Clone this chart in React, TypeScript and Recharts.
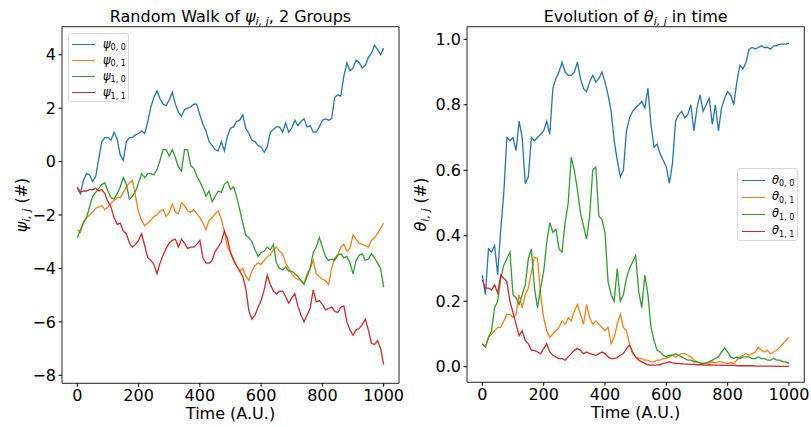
import React from 'react';
import { LineChart, Line, XAxis, YAxis, ReferenceArea, Legend, Label } from 'recharts';

const FONT = '"DejaVu Sans", sans-serif';
const COLORS = ['#1f77b4', '#ff7f0e', '#2ca02c', '#d62728'];
const SUBS = ['0, 0', '0, 1', '1, 0', '1, 1'];

// time steps (A.U.)
const times = [
  0, 10, 20, 30, 40, 50, 60, 70, 80, 90,
  100, 110, 120, 130, 140, 150, 160, 170, 180, 190,
  200, 210, 220, 230, 240, 250, 260, 270, 280, 290,
  300, 310, 320, 330, 340, 350, 360, 370, 380, 390,
  400, 410, 420, 430, 440, 450, 460, 470, 480, 490,
  500, 510, 520, 530, 540, 550, 560, 570, 580, 590,
  600, 610, 620, 630, 640, 650, 660, 670, 680, 690,
  700, 710, 720, 730, 740, 750, 760, 770, 780, 790,
  800, 810, 820, 830, 840, 850, 860, 870, 880, 890,
  900, 910, 920, 930, 940, 950, 960, 970, 980, 990,
  1000,
];

// random walk psi_{i,j}
const psi00 = [
  -1.0, -1.2, -0.7, -0.45, -0.5, -0.75, -0.55, 0.1, 0.75, 0.9,
  0.9, 0.8, 1.1, 0.85, 0.25, 0.05, 0.75, 0.9, 0.9, 1.0,
  1.05, 1.15, 1.05, 1.5, 2.05, 2.4, 2.65, 2.35, 2.15, 2.1,
  2.3, 2.6, 2.15, 1.85, 1.7, 1.95, 2.0, 2.05, 2.15, 2.15,
  1.75, 1.4, 1.15, 0.75, 0.6, 0.45, 0.4, 0.75, 0.4, 0.95,
  1.25, 1.3, 1.5, 1.55, 1.75, 1.25, 1.05, 0.8, 0.75, 0.6,
  0.55, 0.35, 0.55, 1.1, 1.2, 1.3, 1.3, 1.1, 1.45, 1.1,
  1.25, 1.55, 1.35, 1.5, 1.6, 1.3, 1.35, 1.1, 1.1, 1.3,
  1.55, 1.6, 1.55, 1.6, 2.4, 2.5, 2.45, 3.2, 3.7, 3.4,
  3.5, 3.8, 3.7, 3.5, 3.6, 3.9, 4.05, 4.35, 4.2, 4.0,
  4.25,
];
const psi01 = [
  -2.55, -2.65, -2.25, -2.1, -2.0, -1.9, -1.75, -1.7, -1.65, -1.8,
  -1.7, -1.55, -1.45, -1.35, -1.35, -1.15, -0.95, -0.8, -0.7, -1.3,
  -1.9, -2.2, -2.4, -2.3, -2.2, -2.05, -2.0, -1.85, -1.8, -2.05,
  -1.9, -1.6, -1.9, -1.95, -1.55, -1.65, -1.85, -1.9, -1.8, -1.95,
  -2.1, -2.3, -2.55, -2.2, -2.1, -1.95, -1.85, -2.15, -2.6, -3.2,
  -3.4, -3.65, -3.9, -4.1, -4.0, -4.3, -4.45, -4.1, -3.9, -3.8,
  -3.85, -3.7, -3.55, -3.5, -3.3, -3.2, -3.35, -3.45, -3.8, -4.0,
  -4.2, -4.35, -4.4, -4.45, -4.55, -4.2, -4.0, -3.7, -4.2, -4.3,
  -4.4, -4.45, -4.6, -4.0, -3.6, -3.5, -3.2, -3.1, -3.35, -3.25,
  -2.75, -2.9, -3.05, -3.1, -3.15, -3.2, -2.95, -2.85, -2.7, -2.5,
  -2.3,
];
const psi10 = [
  -2.85, -2.55, -2.3, -2.1, -1.7, -1.3, -1.15, -1.0, -0.85, -0.8,
  -1.1, -1.35, -1.4, -1.2, -0.95, -0.6, -0.85, -1.4, -1.3, -1.1,
  -0.8, -0.45, -0.6, -0.45, -0.45, -0.5, -0.3, 0.05, 0.45, 0.45,
  0.2, 0.45, 0.15, -0.2, -0.35, 0.45, 0.45, -0.15, -0.25, -0.55,
  -0.75, -1.0, -1.3, -1.1, -1.5, -1.3, -1.1, -1.15, -0.85, -0.75,
  -1.05, -0.95, -1.3, -1.8, -2.3, -2.75, -2.85, -3.0, -3.3, -3.55,
  -3.4, -3.35, -3.2, -3.3, -3.1, -3.8, -4.0, -4.05, -3.95, -4.1,
  -4.1, -4.2, -4.3, -4.45, -4.6, -4.3, -4.0, -3.4, -3.2, -2.85,
  -3.2, -3.55, -3.7, -3.65, -3.7, -3.5, -3.45, -3.6, -3.55, -3.8,
  -4.2, -3.7, -3.5, -3.45, -3.7, -3.65, -3.45, -3.6, -3.8, -4.0,
  -4.7,
];
const psi11 = [
  -0.95, -1.15, -1.1, -1.1, -1.05, -1.05, -1.0, -1.1, -1.05, -1.2,
  -1.5, -1.7, -2.1, -2.35, -2.3, -2.6, -2.7, -3.05, -3.2, -3.1,
  -2.95, -2.7, -3.15, -3.6, -3.7, -3.85, -4.2, -3.8, -3.5, -3.25,
  -3.05, -2.95, -2.9, -3.2, -2.9, -3.05, -3.25, -3.2, -3.2, -3.1,
  -2.95, -3.6, -3.8, -3.8, -3.7, -3.35, -3.2, -3.0, -2.6, -2.9,
  -3.4, -3.7, -3.9, -4.1, -4.3, -4.75, -5.6, -5.9, -5.75, -5.45,
  -5.2, -4.8, -4.25, -4.6, -4.85, -4.95, -4.85, -4.85, -5.05, -5.3,
  -5.1, -4.95, -5.4, -5.75, -6.0, -5.75, -5.5, -4.8, -5.25, -5.2,
  -5.35, -5.55, -5.5, -5.45, -5.6, -5.65, -5.45, -5.4, -6.0, -6.3,
  -6.5, -6.3, -6.25, -6.1, -5.9, -6.3, -6.8, -6.85, -6.7, -7.0,
  -7.6,
];

// theta_{i,j}
const theta00 = [
  0.28, 0.22, 0.36, 0.35, 0.37, 0.28, 0.42, 0.53, 0.7, 0.69,
  0.7, 0.66, 0.75, 0.7, 0.56, 0.58, 0.7, 0.69, 0.7, 0.71,
  0.72, 0.75, 0.71, 0.85, 0.88, 0.9, 0.93, 0.9, 0.89, 0.89,
  0.9, 0.93, 0.88, 0.85, 0.84, 0.87, 0.89, 0.87, 0.88, 0.9,
  0.87, 0.83, 0.78, 0.69, 0.63, 0.58, 0.6, 0.72, 0.76, 0.78,
  0.79, 0.8, 0.81, 0.79, 0.85, 0.74, 0.67, 0.68, 0.65, 0.63,
  0.61, 0.56, 0.62, 0.75, 0.77, 0.78, 0.76, 0.77, 0.8, 0.72,
  0.79, 0.83, 0.78, 0.8, 0.82, 0.74, 0.8, 0.72, 0.79, 0.82,
  0.84, 0.83, 0.8, 0.87, 0.92, 0.91, 0.93, 0.97, 0.975, 0.97,
  0.975, 0.98, 0.975, 0.975, 0.97, 0.98, 0.98, 0.985, 0.985, 0.985,
  0.988,
];
const theta01 = [
  0.07, 0.06, 0.09, 0.1, 0.11, 0.12, 0.12, 0.14, 0.16, 0.16,
  0.15, 0.16, 0.22, 0.18, 0.22, 0.24, 0.29, 0.335, 0.33, 0.22,
  0.15, 0.11, 0.09, 0.1, 0.11, 0.12, 0.14, 0.13, 0.15, 0.14,
  0.17, 0.19, 0.16, 0.13, 0.19, 0.15, 0.13, 0.14, 0.13, 0.12,
  0.11, 0.12, 0.07, 0.09, 0.13, 0.16, 0.12, 0.11, 0.07, 0.04,
  0.03, 0.025, 0.025, 0.02, 0.02, 0.015, 0.015, 0.02, 0.02, 0.025,
  0.025, 0.03, 0.035, 0.03, 0.035, 0.04, 0.04, 0.035, 0.03, 0.02,
  0.015, 0.012, 0.01, 0.01, 0.012, 0.015, 0.012, 0.015, 0.015, 0.012,
  0.01, 0.012, 0.01, 0.02, 0.03, 0.035, 0.04, 0.035, 0.04, 0.045,
  0.06, 0.05, 0.045, 0.05, 0.04, 0.045, 0.05, 0.06, 0.07, 0.08,
  0.09,
];
const theta10 = [
  0.07, 0.06, 0.09, 0.11, 0.18, 0.2, 0.27, 0.31, 0.33, 0.35,
  0.22, 0.21, 0.19, 0.22, 0.25, 0.33, 0.36, 0.24, 0.18, 0.24,
  0.29, 0.38, 0.44, 0.41, 0.42, 0.36, 0.35, 0.44, 0.5, 0.64,
  0.6, 0.54, 0.47, 0.43, 0.39, 0.46, 0.6, 0.61, 0.46, 0.45,
  0.41, 0.26, 0.22, 0.2, 0.3, 0.2, 0.22, 0.27, 0.3, 0.32,
  0.34, 0.23, 0.18, 0.28, 0.22, 0.12, 0.08, 0.05, 0.045, 0.035,
  0.03, 0.035, 0.035, 0.04, 0.035, 0.03, 0.025, 0.02, 0.02, 0.015,
  0.015, 0.012, 0.01, 0.012, 0.015, 0.02, 0.025, 0.03, 0.045, 0.057,
  0.045, 0.03, 0.025, 0.03, 0.025, 0.03, 0.03, 0.03, 0.025, 0.025,
  0.03, 0.025, 0.025, 0.02, 0.02, 0.025, 0.02, 0.02, 0.015, 0.015,
  0.01,
];
const theta11 = [
  0.265, 0.24, 0.24, 0.235, 0.25, 0.225, 0.28, 0.27, 0.26, 0.2,
  0.165, 0.13, 0.095, 0.11, 0.08, 0.07, 0.05, 0.05, 0.045, 0.04,
  0.055, 0.07, 0.045, 0.035, 0.03, 0.025, 0.025, 0.02, 0.03, 0.04,
  0.05, 0.056, 0.05, 0.04, 0.045, 0.04, 0.038, 0.035, 0.04, 0.045,
  0.04, 0.03, 0.025, 0.025, 0.028, 0.035, 0.04, 0.055, 0.066, 0.045,
  0.03, 0.02, 0.015, 0.01, 0.006, 0.005, 0.005, 0.005, 0.006, 0.01,
  0.012, 0.015, 0.012, 0.01, 0.01, 0.009, 0.008, 0.008, 0.007, 0.007,
  0.006, 0.006, 0.006, 0.005, 0.006, 0.005, 0.005, 0.005, 0.004, 0.004,
  0.004, 0.004, 0.004, 0.003, 0.003, 0.003, 0.003, 0.003, 0.003, 0.002,
  0.002, 0.002, 0.002, 0.002, 0.002, 0.002, 0.001, 0.001, 0.001, 0.001,
  0.001,
];

const xTicks = [0, 200, 400, 600, 800, 1000];
const psiTicks = [-8, -6, -4, -2, 0, 2, 4];
const thetaTicks = [0, 0.2, 0.4, 0.6, 0.8, 1.0];

const psiRows = times.map((t, i) => ({ t, s0: psi00[i], s1: psi01[i], s2: psi10[i], s3: psi11[i] }));
const thetaRows = times.map((t, i) => ({ t, s0: theta00[i], s1: theta01[i], s2: theta10[i], s3: theta11[i] }));

const minus = (v: number) => String(v).replace('-', '\u2212');

function LegendBox({ sym, w, h, padTop, padLeft, rowH, gap }: any) {
  return (
    <div
      style={{
        width: w,
        height: h,
        boxSizing: 'border-box',
        border: '1px solid #d8d8d8',
        borderRadius: 3,
        background: 'rgba(255,255,255,0.85)',
        paddingTop: padTop,
        paddingLeft: padLeft,
        fontFamily: FONT,
        fontSize: 11.5,
        color: '#000',
      }}
    >
      {SUBS.map((s, i) => (
        <div key={s} style={{ display: 'flex', alignItems: 'center', height: rowH }}>
          <span style={{ display: 'inline-block', width: 23, borderTop: `1.3px solid ${COLORS[i]}`, marginRight: gap }} />
          <span style={{ whiteSpace: 'nowrap', lineHeight: 1 }}>
            <i>{sym}</i>
            <span style={{ fontSize: 8, position: 'relative', top: 2.5 }}>{s}</span>
          </span>
        </div>
      ))}
    </div>
  );
}

function Panel({ rows, domain, ticks, fmt, sym, title, x, width, margin, legend, yLabelX }: any) {
  const plotLeft = x + 62;
  const plotWidth = width - 62 - margin.right;
  return (
    <>
      <div
        style={{
          position: 'absolute',
          left: plotLeft,
          width: plotWidth,
          top: 8.5,
          textAlign: 'center',
          fontFamily: FONT,
          fontSize: 16,
          lineHeight: '16px',
          whiteSpace: 'nowrap',
          color: '#000',
        }}
      >
        {title[0]}
        <i>{sym}</i>
        <i style={{ fontSize: 11, position: 'relative', top: 3.5 }}>i, j</i>
        {title[1]}
      </div>
      <div style={{ position: 'absolute', left: x, top: 0 }}>
        <LineChart width={width} height={427} data={rows} margin={margin}>
          <XAxis
            dataKey="t"
            type="number"
            domain={[-50, 1050]}
            ticks={xTicks}
            allowDataOverflow
            axisLine={false}
            tickLine={{ stroke: '#000' }}
            tickSize={3.5}
            tickMargin={3}
            tick={{ fill: '#000', fontSize: 16, fontFamily: FONT }}
            interval={0}
          >
            <Label
              content={(p: any) => (
                <text
                  x={p.viewBox.x + p.viewBox.width / 2}
                  y={p.viewBox.y + 36}
                  textAnchor="middle"
                  fontFamily={FONT}
                  fontSize={16}
                  fill="#000"
                >
                  Time (A.U.)
                </text>
              )}
            />
          </XAxis>
          <YAxis
            type="number"
            domain={domain}
            ticks={ticks}
            allowDataOverflow
            width={62}
            axisLine={false}
            tickLine={{ stroke: '#000' }}
            tickSize={3.5}
            tickMargin={2.5}
            tickFormatter={fmt}
            tick={{ fill: '#000', fontSize: 16, fontFamily: FONT }}
            interval={0}
          >
            <Label
              content={(p: any) => {
                const cx = p.viewBox.x + yLabelX;
                const cy = p.viewBox.y + p.viewBox.height / 2;
                return (
                  <text
                    x={cx}
                    y={cy}
                    transform={`rotate(-90 ${cx} ${cy})`}
                    textAnchor="middle"
                    fontFamily={FONT}
                    fontSize={16}
                    fill="#000"
                  >
                    <tspan fontStyle="italic">{sym}</tspan>
                    <tspan fontStyle="italic" fontSize={11} dy={3.5}>i, j</tspan>
                    <tspan dy={-3.5}> (#)</tspan>
                  </text>
                );
              }}
            />
          </YAxis>
          {[0, 1, 2, 3].map((i) => (
            <Line
              key={i}
              type="linear"
              dataKey={`s${i}`}
              stroke={COLORS[i]}
              strokeWidth={1.3}
              strokeLinejoin="miter"
              dot={false}
              activeDot={false}
              isAnimationActive={false}
            />
          ))}
          <ReferenceArea
            x1={-50}
            x2={1050}
            y1={domain[0]}
            y2={domain[1]}
            fill="none"
            fillOpacity={0}
            stroke="#222"
            strokeWidth={1}
            ifOverflow="visible"
          />
          <Legend
            layout="vertical"
            align="center"
            verticalAlign="middle"
            wrapperStyle={{ left: legend.left, top: legend.top, width: 'auto', height: 'auto' }}
            content={() => <LegendBox sym={sym} {...legend} />}
          />
        </LineChart>
      </div>
    </>
  );
}

export default function App() {
  return (
    <div style={{ position: 'absolute', left: 0, top: 0, width: 811, height: 427, background: '#fff', overflow: 'hidden' }}>
      <Panel
        rows={psiRows}
        domain={[-8.3, 5.05]}
        ticks={psiTicks}
        fmt={minus}
        sym={'\u03c8'}
        title={['Random Walk of ', ', 2 Groups']}
        x={0}
        width={405}
        margin={{ top: 26.7, right: 6, bottom: 13.7, left: 0 }}
        legend={{ left: 67.7, top: 32.7, w: 61.3, h: 69.5, padTop: 2.5, padLeft: 3.3, rowH: 16.2, gap: 8 }}
        yLabelX={26.5}
      />
      <Panel
        rows={thetaRows}
        domain={[-0.0476, 1.0385]}
        ticks={thetaTicks}
        fmt={(v: number) => v.toFixed(1)}
        sym={'\u03b8'}
        title={['Evolution of ', ' in time']}
        x={405}
        width={406}
        margin={{ top: 26.7, right: 6.7, bottom: 14.7, left: 0 }}
        legend={{ left: 331.7, top: 168.3, w: 61.6, h: 72.4, padTop: 2.6, padLeft: 4.7, rowH: 16.9, gap: 6.7 }}
        yLabelX={20.6}
      />
    </div>
  );
}
